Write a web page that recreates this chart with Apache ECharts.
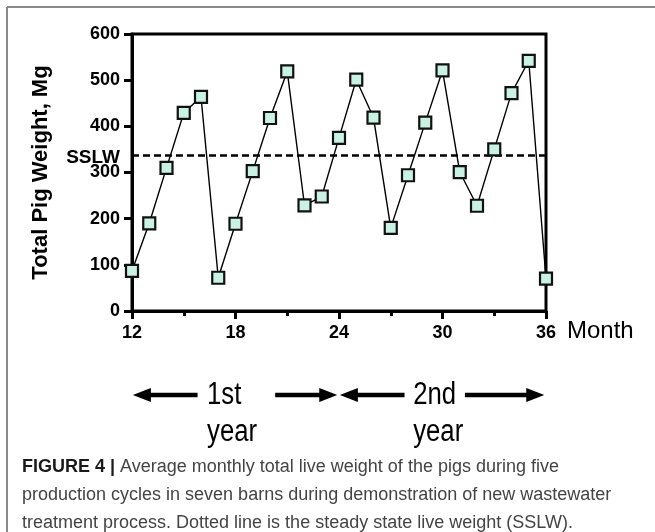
<!DOCTYPE html>
<html><head><meta charset="utf-8">
<script src="https://cdn.jsdelivr.net/npm/echarts@6/dist/echarts.min.js"></script>
<style>html,body{margin:0;padding:0;background:#fff}#c{width:655px;height:532px}</style>
</head><body><div id="c"></div>
<script>
// ---- data ----
const months  = [12,13,14,15,16,17,18,19,20,21,22,23,24,25,26,27,28,29,30,31,32,33,34,35,36];
const weights = [87,190,310,429,464,72,189,303,418,519,229,248,375,501,419,180,294,408,521,301,228,350,472,542,70];
const sslw = 337;
const yTitle = 'Total Pig Weight, Mg';
const xTitle = 'Month';
const sslwLabel = 'SSLW';
const yearTexts = [['1st','year'],['2nd','year']];
const captionBold = 'FIGURE 4 |';
const captionLines = [
  ' Average monthly total live weight of the pigs during five',
  'production cycles in seven barns during demonstration of new wastewater',
  'treatment process. Dotted line is the steady state live weight (SSLW).'
];

const F = '"Liberation Sans", Arial, Helvetica, sans-serif';
const chart = echarts.init(document.getElementById('c'), null, {renderer:'canvas'});
const tickStyle = {color:'#000', width:3};
chart.setOption({
  animation:false,
  backgroundColor:'#fff',
  grid:{left:132, right:109, top:34, bottom:221, show:true, borderColor:'#000', borderWidth:3},
  xAxis:{type:'value', min:12, max:36, interval:6,
    axisLine:{show:true, onZero:false, lineStyle:tickStyle},
    axisTick:{show:true, length:8, lineStyle:tickStyle},
    minorTick:{show:true, splitNumber:2, length:5, lineStyle:tickStyle},
    splitLine:{show:false}, minorSplitLine:{show:false},
    axisLabel:{fontFamily:F, fontWeight:'bold', fontSize:18, color:'#000', margin:13}},
  yAxis:{type:'value', min:0, max:600, interval:100,
    name:yTitle, nameLocation:'middle', nameGap:80, nameRotate:90,
    nameTextStyle:{fontFamily:F, fontWeight:'bold', fontSize:22, color:'#000'},
    axisLine:{show:true, lineStyle:tickStyle},
    axisTick:{show:true, length:8, lineStyle:tickStyle},
    splitLine:{show:false},
    axisLabel:{fontFamily:F, fontWeight:'bold', fontSize:18, color:'#000', margin:12}},
  series:[{type:'line', data:months.map((m,i)=>[m,weights[i]]),
    symbol:'rect', symbolSize:12, clip:false, z:5,
    lineStyle:{color:'#000', width:1.4},
    itemStyle:{color:'#c9f2e3', borderColor:'#111', borderWidth:2.2},
    markLine:{silent:true, symbol:'none', label:{show:false}, z:3,
      lineStyle:{type:[7,4], color:'#000', width:2.5},
      data:[{yAxis:sslw}]}}]
});

const px = (x,y)=>chart.convertToPixel({gridIndex:0},[x,y]);
const [x12, y0] = px(12,0);
const x36 = px(36,0)[0];
const ySS = px(12,sslw)[1];
const g = [];
// frame (top and left grey lines)
g.push({type:'line', shape:{x1:7,y1:7,x2:655,y2:7}, style:{stroke:'#8a8a8a', lineWidth:2}});
g.push({type:'line', shape:{x1:7,y1:7,x2:7,y2:532}, style:{stroke:'#8a8a8a', lineWidth:2}});
// SSLW label
g.push({type:'text', x:x12-12, y:ySS+2, style:{text:sslwLabel, font:'bold 19px '+F, fill:'#000', align:'right', verticalAlign:'middle'}});
// Month
g.push({type:'text', x:x36+21, y:y0+20, style:{text:xTitle, font:'24px '+F, fill:'#000', align:'left', verticalAlign:'middle'}});
// arrows
const ay = y0 + 84;
function arrow(mTail, mHead){
  const xt = px(mTail,0)[0], xh = px(mHead,0)[0];
  const s = xh > xt ? 1 : -1, hl = 18, hw = 7;
  g.push({type:'line', shape:{x1:xt,y1:ay,x2:xh - s*hl + s*2,y2:ay}, style:{stroke:'#000', lineWidth:4.5}});
  g.push({type:'polygon', shape:{points:[[xh,ay],[xh-s*hl,ay-hw],[xh-s*hl,ay+hw]]}, style:{fill:'#000'}});
}
arrow(15.8, 12.05); arrow(20.3, 23.9); arrow(27.8, 24.05); arrow(31.3, 35.9);
const textStarts = [16.35, 28.3];
yearTexts.forEach((t,i)=>{
  const tx = px(textStarts[i],0)[0];
  g.push({type:'text', x:tx, y:ay, scaleX:0.83, style:{text:t[0], font:'31px '+F, fill:'#000', align:'left', verticalAlign:'middle'}});
  g.push({type:'text', x:tx, y:ay+37, scaleX:0.83, style:{text:t[1], font:'31px '+F, fill:'#000', align:'left', verticalAlign:'middle'}});
});
// caption
g.push({type:'text', x:22, y:453, style:{
  text:'{b|'+captionBold+'}{n|'+captionLines[0]+'}\n{n|'+captionLines[1]+'}\n{n|'+captionLines[2]+'}',
  verticalAlign:'top', align:'left',
  rich:{b:{font:'bold 18px '+F, fill:'#1a1a1a', lineHeight:28}, n:{font:'18px '+F, fill:'#444', lineHeight:28}}}});
chart.setOption({graphic:{elements:g}});
</script></body></html>
